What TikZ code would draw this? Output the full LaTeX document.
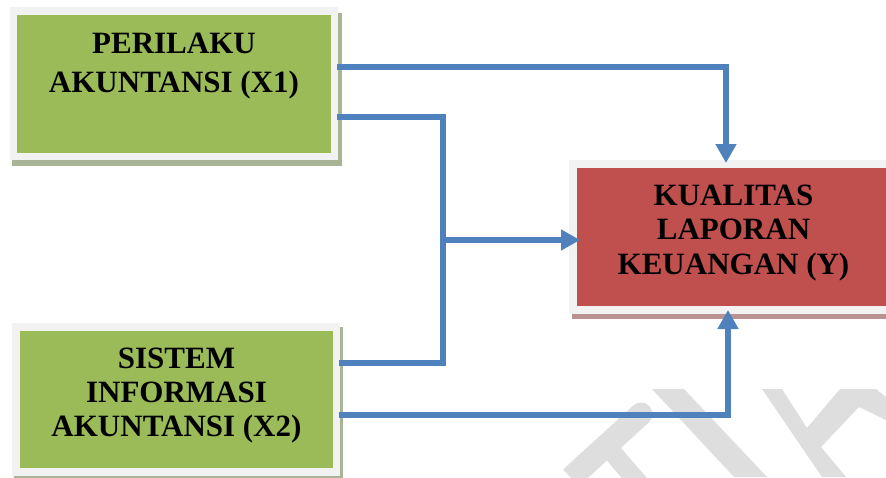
\documentclass[tikz,border=0pt]{standalone}
\usepackage{fontspec}
\setmainfont{Liberation Serif}
\usetikzlibrary{arrows.meta,calc}

\definecolor{boxgreen}{HTML}{9BBB59}
\definecolor{boxred}{HTML}{C0504D}
\definecolor{rim}{HTML}{F2F2F2}
\definecolor{flow}{HTML}{4F81BD}
\definecolor{greenshade}{HTML}{A9B494}
\definecolor{redshade}{HTML}{B99392}
\definecolor{markgrey}{HTML}{DEDEDE}

\tikzset{
  box/.style={draw=rim, line width=7.5pt, inner sep=0pt, outer sep=0pt, rectangle},
  caption/.style={anchor=base, inner sep=0pt, font=\bfseries\fontsize{31}{34}\selectfont},
  flowline/.style={draw=flow, line width=6pt, line join=miter},
  tip/.style={-{Triangle[width=20pt,length=19pt]}},
}

\begin{document}
\begin{tikzpicture}[x=1pt,y=-1pt]
\useasboundingbox (0,0) rectangle (886,477);
\clip (0,0) rectangle (886,477);
\fill[white] (0,0) rectangle (886,477);

% faint background lettering
\fill[markgrey] (652,389) -- (684,389) -- (767,477) -- (734,477) -- cycle;
\fill[markgrey] (762,389) -- (782,389) -- (807,428) -- (840,389) -- (876,389)
  -- (886,397) -- (886,420) -- (859,407) -- (821,447) -- (846,477) -- (822,477) -- cycle;
\draw[markgrey, line width=23pt, line cap=round] (641,414) -- (585,465);
\draw[markgrey, line width=23pt] (585,465) -- (571,478);
\draw[markgrey, line width=19pt] (612,452) -- (642,487);

% drop shadows
\fill[greenshade] (12,13) rectangle (342,166);
\fill[greenshade] (14,327) rectangle (343,482);
\fill[redshade] (572,165) rectangle (900,319);

% boxes
\node[box, fill=boxgreen, minimum width=321pt, minimum height=145.5pt] (x1) at (174,83.75) {};
\node[box, fill=boxgreen, minimum width=320.5pt, minimum height=145pt] (x2) at (176.25,399.5) {};
\node[box, fill=boxred, minimum width=327pt, minimum height=146pt] (y) at (736.5,237) {};

% box captions
\node[caption] (x1a) at (174,53) {PERILAKU};
\node[caption] (x1b) at (174,92) {AKUNTANSI (X1)};
\node[caption] (x2a) at (176.5,368) {SISTEM};
\node[caption] (x2b) at (176.5,402) {INFORMASI};
\node[caption] (x2c) at (176.5,436) {AKUNTANSI (X2)};
\node[caption] (ya) at (733.5,205) {KUALITAS};
\node[caption] (yb) at (733.5,239) {LAPORAN};
\node[caption] (yc) at (733.5,274) {KEUANGAN (Y)};

% connector bends
\coordinate (k1) at (726,67);
\coordinate (k2) at (443,117);
\coordinate (k3) at (443,363);
\coordinate (k4) at (443,240);
\coordinate (k5) at (728,415);

% connectors
\draw[flowline, tip] ([xshift=2.5pt]x1.east |- k1) -- (k1) -- ([yshift=1pt]k1 |- y.north);
\draw[flowline] ([xshift=2.5pt]x1.east |- k2) -- (k2) -- (k3) -- ([xshift=2.5pt]x2.east |- k3);
\draw[flowline, tip] (k4) -- ([xshift=7pt]y.west |- k4);
\draw[flowline, tip] ([xshift=2.5pt]x2.east |- k5) -- (k5) -- (k5 |- y.south);
\end{tikzpicture}
\end{document}
